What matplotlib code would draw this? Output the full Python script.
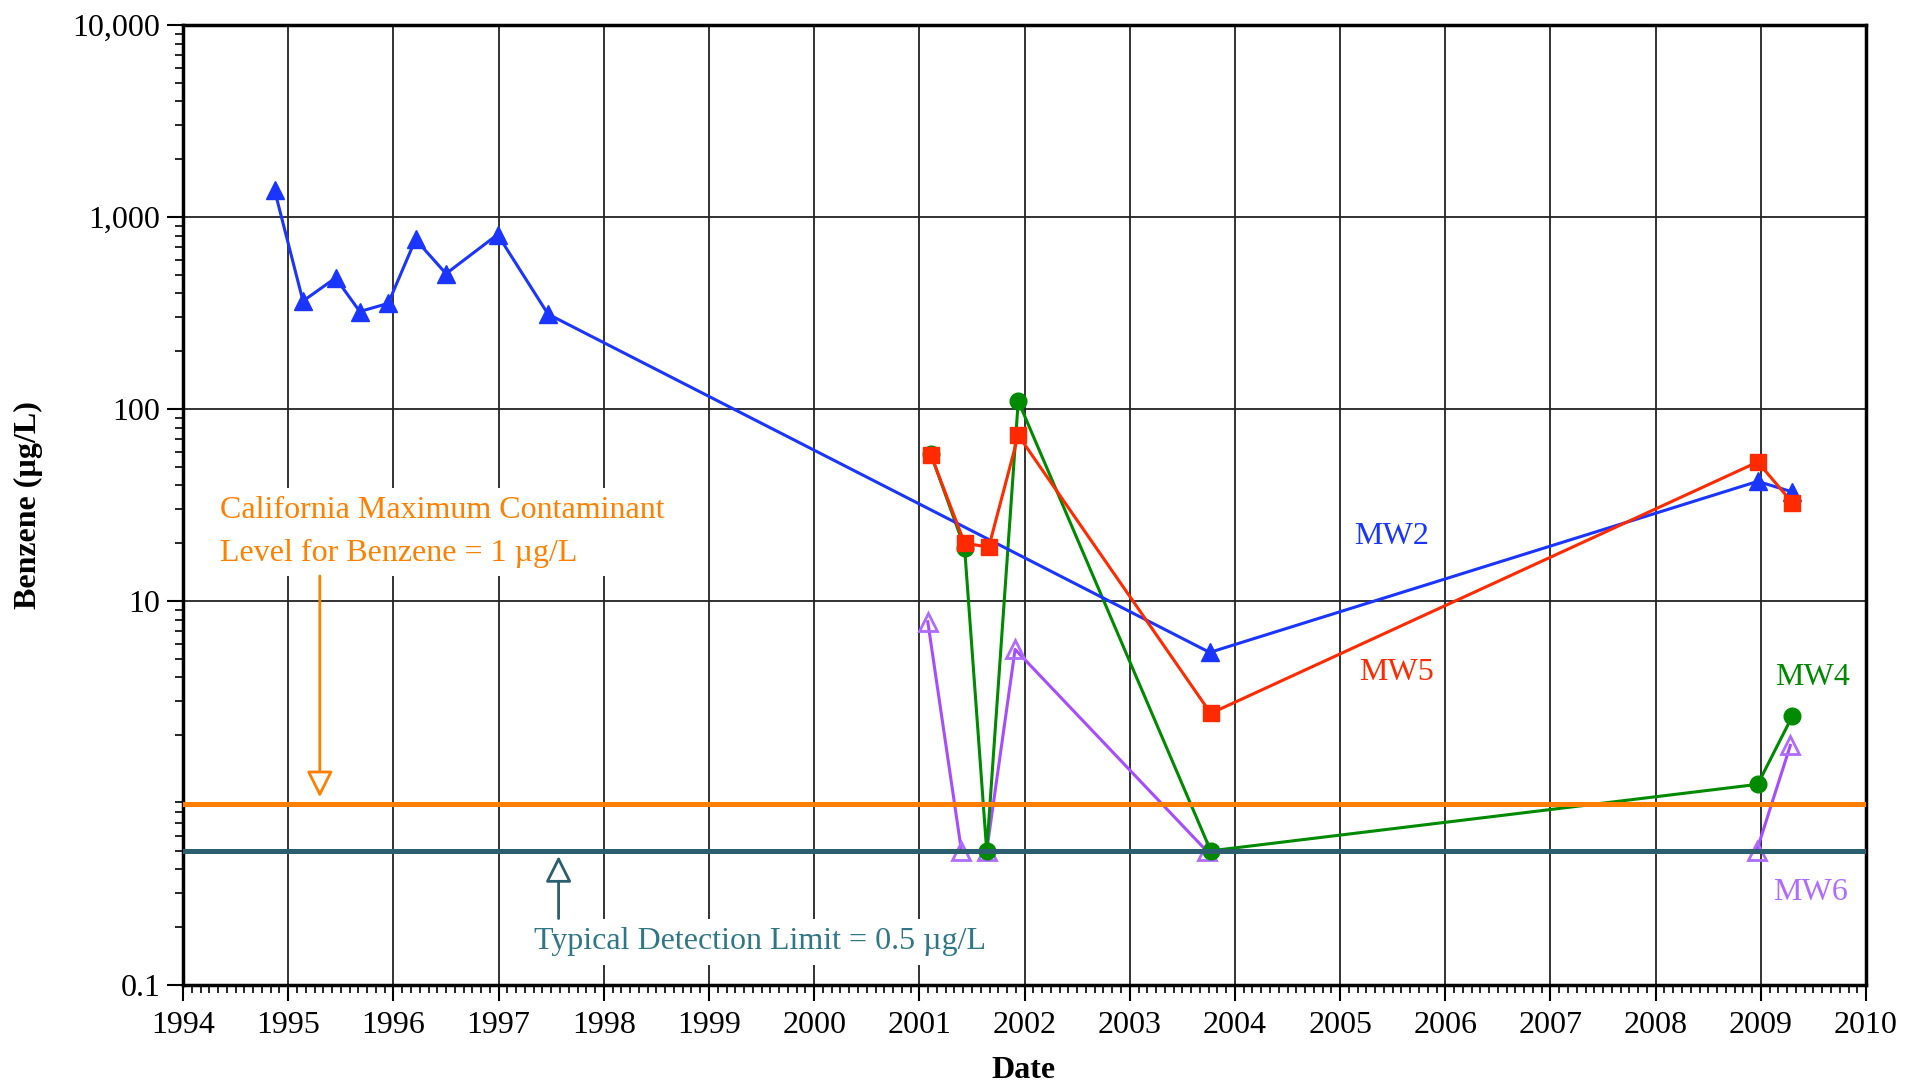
import matplotlib
matplotlib.use("Agg")
import matplotlib.pyplot as plt
import numpy as np
from matplotlib.ticker import LogLocator, MultipleLocator, NullFormatter

plt.rcParams['font.family'] = ['Liberation Serif', 'DejaVu Serif']

# sample dates (decimal years) and benzene concentrations (ug/L)
mw2_dates = [1994.87, 1995.14, 1995.45, 1995.68, 1995.95, 1996.21, 1996.50,
             1996.99, 1997.47, 2003.76, 2008.97, 2009.30]
mw2_vals = [1380, 365, 482, 322, 355, 765, 507, 811, 312, 5.4, 42, 37]

mw5_dates = [2001.11, 2001.43, 2001.66, 2001.94, 2003.77, 2008.97, 2009.30]
mw5_vals = [57.6, 20, 19.1, 73, 2.6, 53, 32.5]

mw4_dates = [2001.11, 2001.43, 2001.64, 2001.94, 2003.77, 2008.97, 2009.30]
mw4_vals = [58, 18.9, 0.5, 110, 0.5, 1.11, 2.52]

mw6_dates = [2001.08, 2001.40, 2001.64, 2001.91, 2003.73, 2008.96, 2009.28]
mw6_vals = [7.8, 0.5, 0.5, 5.6, 0.5, 0.5, 1.77]

mcl_level = 0.88   # orange line as drawn
dl_level = 0.5     # detection limit

years = list(range(1994, 2011))
ytick_vals = [0.1, 10, 100, 1000, 10000]
ytick_labels = ["0.1", "10", "100", "1,000", "10,000"]

blue = "#1a35ff"
red = "#ff2a00"
green = "#008a00"
purple = "#a64dff"
orange = "#ff8000"
teal = "#2b5f70"
teal_text = "#2f7786"

fig = plt.figure(figsize=(19.21, 10.84), dpi=100)
ax = fig.add_axes([0.0953, 0.0913, 0.8761, 0.8856])

fs = 23

# data series
ax.plot(mw6_dates, mw6_vals, color=purple, lw=2.2, marker="^", ms=13,
        mfc="none", mec="#b06bff", mew=2, zorder=3)
ax.plot(mw4_dates, mw4_vals, color=green, lw=2.2, marker="o", ms=12,
        zorder=3)
ax.plot(mw2_dates, mw2_vals, color=blue, lw=2.2, marker="^", ms=13,
        zorder=3)
ax.plot(mw5_dates, mw5_vals, color=red, lw=2.2, marker="s", ms=12,
        zorder=3)

# reference lines
ax.axhline(mcl_level, color=orange, lw=3.6, zorder=4)
ax.axhline(dl_level, color=teal, lw=3.6, zorder=4)

ax.set_yscale("log")
ax.set_xlim(1994, 2010)
ax.set_ylim(0.1, 10000)

ax.set_yticks(ytick_vals)
ax.set_yticklabels(ytick_labels)
ax.yaxis.set_minor_locator(LogLocator(base=10, subs=np.arange(2, 10)))
ax.yaxis.set_minor_formatter(NullFormatter())
ax.set_xticks(years)
ax.set_xticklabels([str(y) for y in years])
ax.xaxis.set_minor_locator(MultipleLocator(1 / 12))

ax.tick_params(axis="both", which="major", direction="out", length=11.5,
               width=1.5, labelsize=fs, pad=5)
ax.tick_params(axis="x", which="major", pad=7)
ax.tick_params(axis="both", which="minor", direction="out", length=6,
               width=1.2)
ax.tick_params(top=False, right=False, which="both")

ax.grid(True, which="major", color="#222222", lw=1.3, zorder=1)
ax.set_axisbelow(True)

for sp in ax.spines.values():
    sp.set_linewidth(2.5)

# labels for wells
ax.text(2005.49, 21.6, "MW2", color=blue, fontsize=fs, ha="center", va="center")
ax.text(2005.54, 4.23, "MW5", color=red, fontsize=fs, ha="center", va="center")
ax.text(2009.49, 3.99, "MW4", color=green, fontsize=fs, ha="center", va="center")
ax.text(2009.47, 0.305, "MW6", color="#b06bff", fontsize=fs, ha="center", va="center")

# annotations
ax.text(1994.35, 22.9, "California Maximum Contaminant\nLevel for Benzene = 1 µg/L",
        color=orange, fontsize=fs, ha="left", va="center", linespacing=1.6,
        bbox=dict(facecolor="white", edgecolor="none", pad=6), zorder=5)
ax.annotate("", xy=(1995.30, 0.95), xytext=(1995.30, 13.5),
            arrowprops=dict(arrowstyle="-|>", color=orange, fc="white", lw=2,
                            mutation_scale=40, shrinkA=0, shrinkB=0), zorder=5)

ax.text(1997.34, 0.168, "Typical Detection Limit = 0.5 µg/L", color=teal_text,
        fontsize=fs, ha="left", va="center",
        bbox=dict(facecolor="white", edgecolor="none", pad=6), zorder=5)
ax.annotate("", xy=(1997.57, 0.47), xytext=(1997.57, 0.222),
            arrowprops=dict(arrowstyle="-|>", color=teal, fc="white", lw=2,
                            mutation_scale=40, shrinkA=0, shrinkB=0), zorder=5)

fig.text(1024 / 1921, 1 - 1071 / 1084, "Date", fontsize=fs, fontweight="bold",
         ha="center", va="center")
fig.text(28 / 1921, 1 - 505 / 1084, "Benzene (µg/L)", fontsize=fs,
         fontweight="bold", ha="center", va="center", rotation=90)

fig.savefig("out.png", dpi=100)
